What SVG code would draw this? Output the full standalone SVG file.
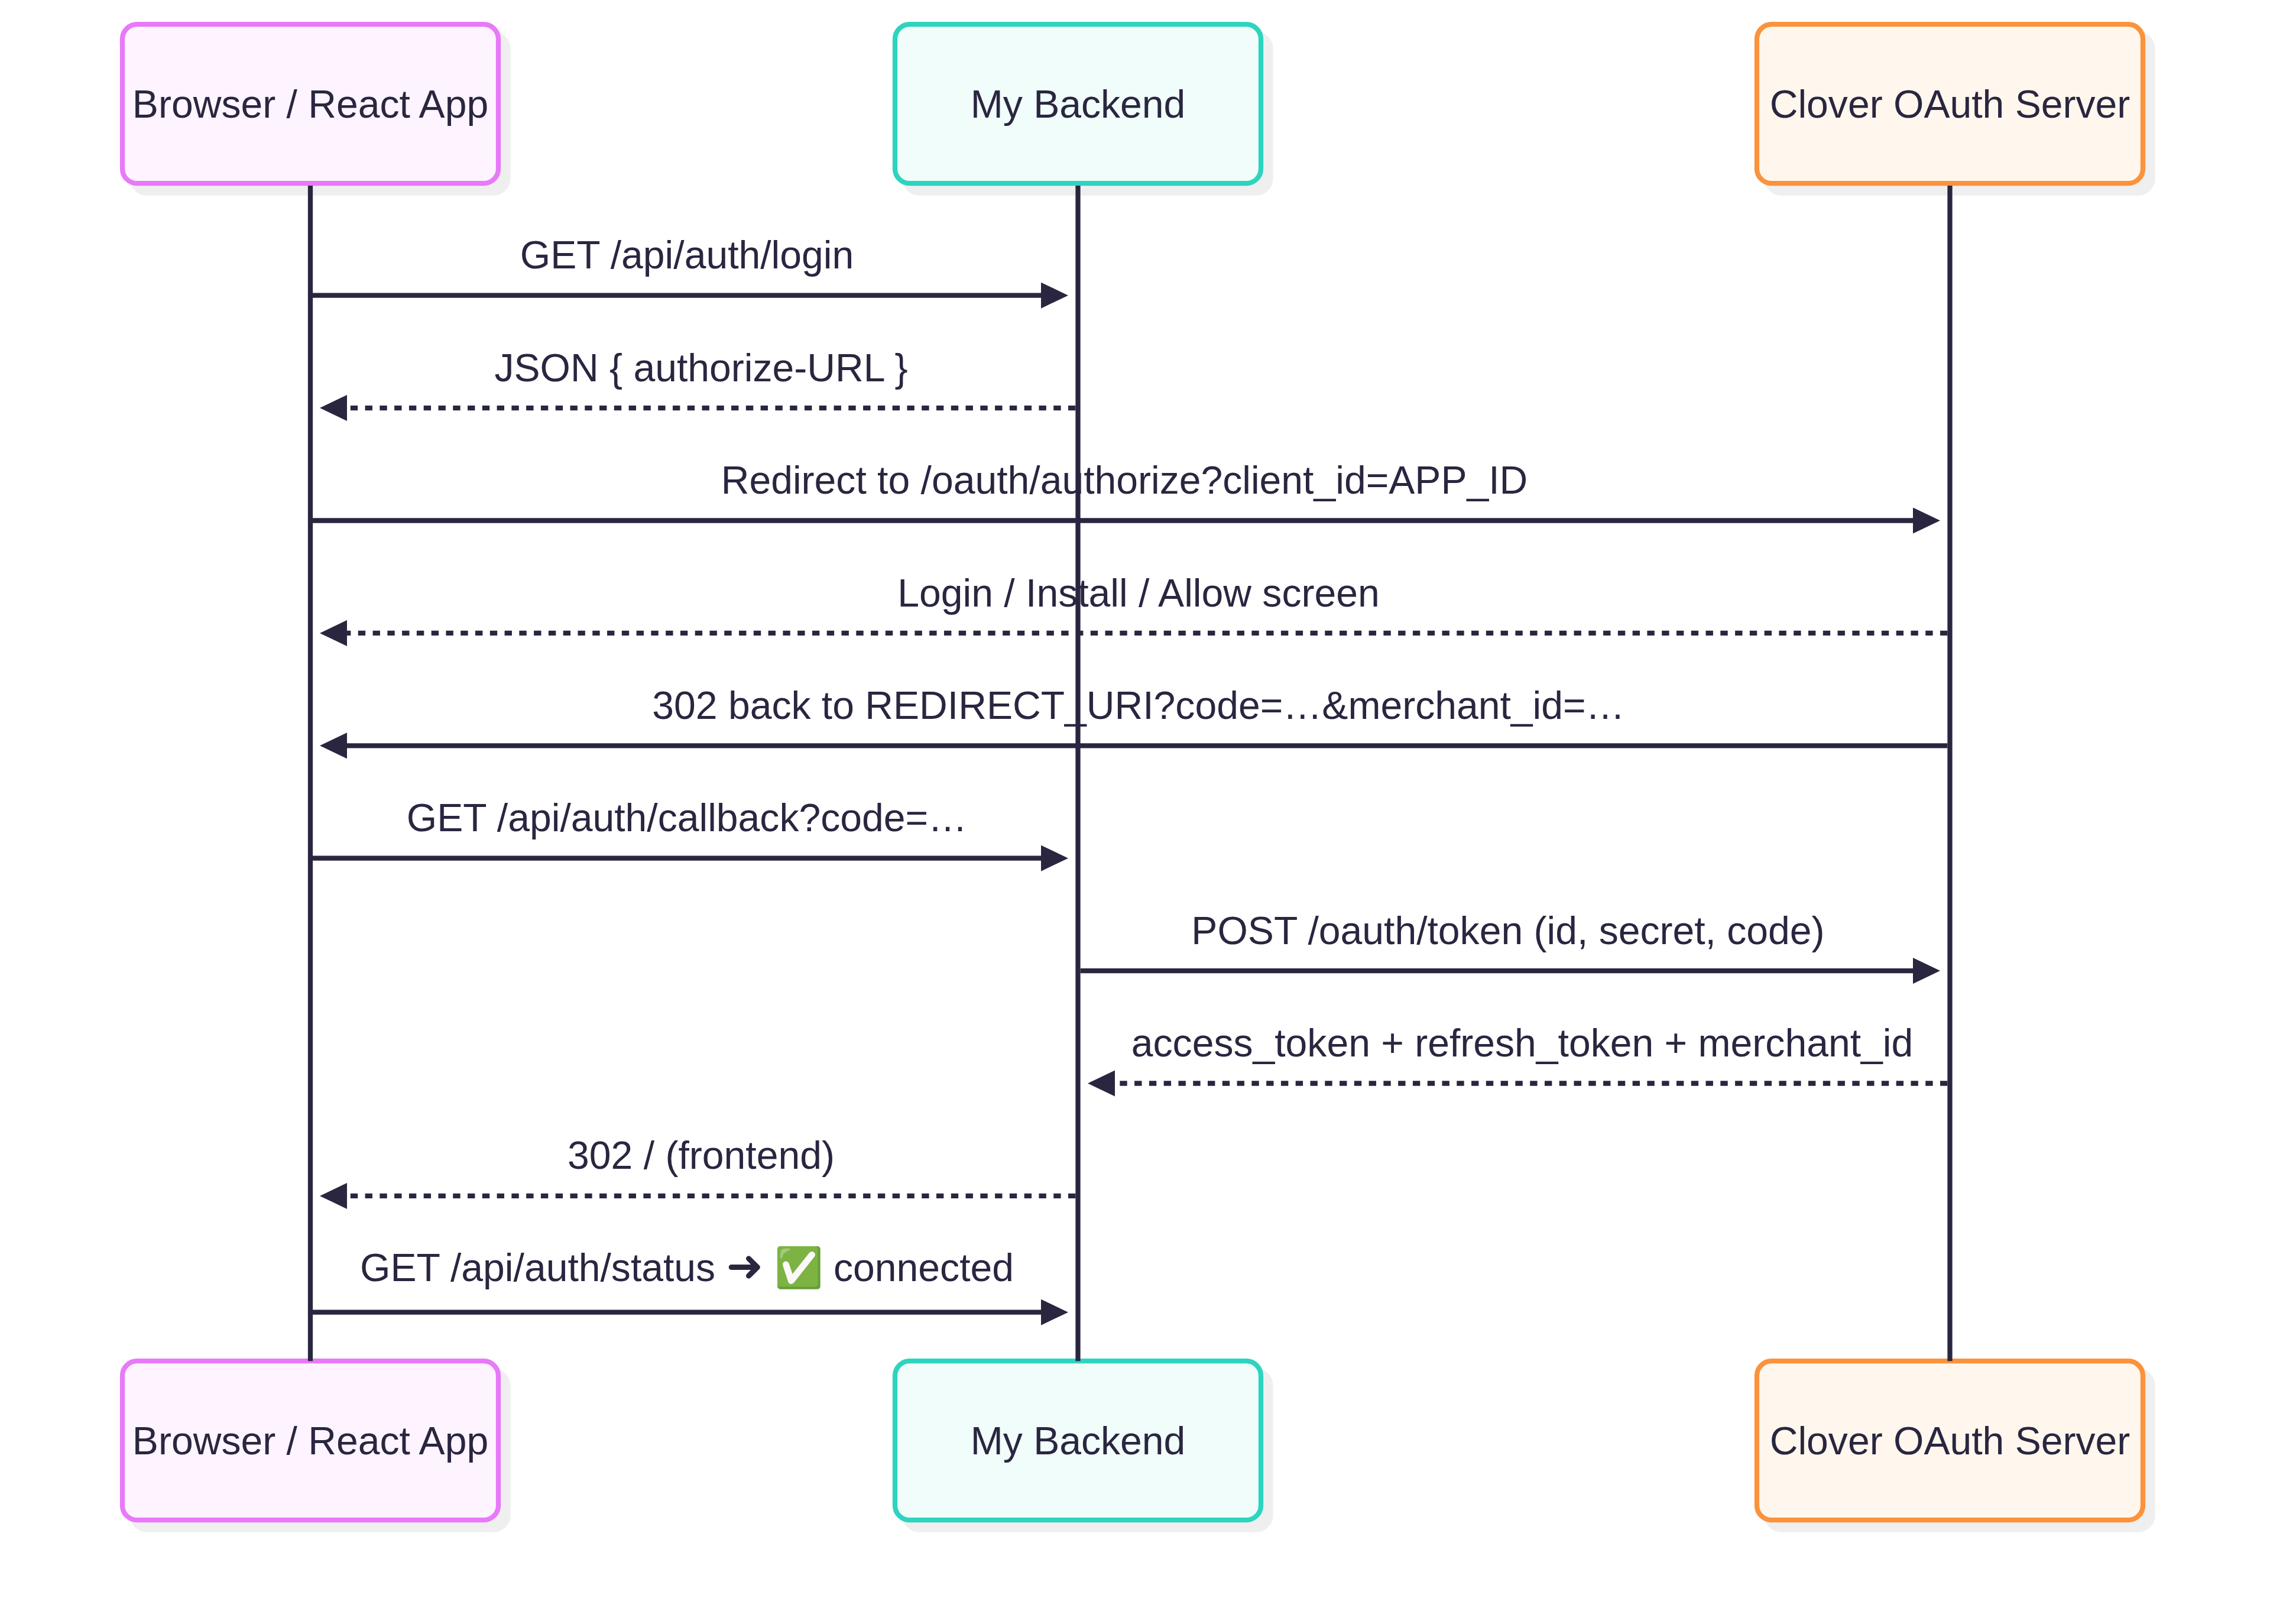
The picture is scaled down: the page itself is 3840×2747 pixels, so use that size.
<svg xmlns="http://www.w3.org/2000/svg" width="3840" height="2747" viewBox="0 0 3840 2747">
<style>
text{font-family:"Liberation Sans",Arial,sans-serif;font-size:66.08px;fill:#2a2640;text-anchor:middle}
.sym{font-family:"DejaVu Sans",sans-serif;font-weight:700;font-size:75px}
.shadow{fill:#efefef;stroke:#efefef;stroke-width:8.26}
.actor{stroke-width:8.26}
.a{fill:#fdf4ff;stroke:#e879f9}
.b{fill:#f0fdfa;stroke:#2dd4bf}
.c{fill:#fff7ed;stroke:#fb923c}
.life{stroke:#2a2640;stroke-width:8.26;fill:none}
.msg{stroke:#2a2640;stroke-width:8.26;fill:none}
.dash{stroke-dasharray:12.39 12.39}
</style>
<defs>
<marker id="arrow" markerUnits="userSpaceOnUse" viewBox="0 0 46 44" refX="26" refY="22" markerWidth="46" markerHeight="44" orient="auto"><path d="M0 0L46 22L0 44Z" fill="#2a2640"/></marker>
</defs>
<rect width="3840" height="2747" fill="#fff"/>
<g id="actor-browser-top"><rect class="shadow" x="223.5" y="57.7" width="636" height="269" rx="24.8"/><rect class="actor a" x="207" y="41.2" width="636" height="269" rx="24.8"/><text x="525" y="199">Browser / React App</text></g>
<g id="actor-backend-top"><rect class="shadow" x="1530.5" y="57.7" width="619" height="269" rx="24.8"/><rect class="actor b" x="1514" y="41.2" width="619" height="269" rx="24.8"/><text x="1823.5" y="199">My Backend</text></g>
<g id="actor-clover-top"><rect class="shadow" x="2988.5" y="57.7" width="653" height="269" rx="24.8"/><rect class="actor c" x="2972" y="41.2" width="653" height="269" rx="24.8"/><text x="3298.5" y="199">Clover OAuth Server</text></g>
<g id="actor-browser-bottom"><rect class="shadow" x="223.5" y="2318.7" width="636" height="269" rx="24.8"/><rect class="actor a" x="207" y="2302.2" width="636" height="269" rx="24.8"/><text x="525" y="2460">Browser / React App</text></g>
<g id="actor-backend-bottom"><rect class="shadow" x="1530.5" y="2318.7" width="619" height="269" rx="24.8"/><rect class="actor b" x="1514" y="2302.2" width="619" height="269" rx="24.8"/><text x="1823.5" y="2460">My Backend</text></g>
<g id="actor-clover-bottom"><rect class="shadow" x="2988.5" y="2318.7" width="653" height="269" rx="24.8"/><rect class="actor c" x="2972" y="2302.2" width="653" height="269" rx="24.8"/><text x="3298.5" y="2460">Clover OAuth Server</text></g>
<g id="connectors">
<path class="life" d="M525 314V2302.3"/>
<path class="life" d="M1823.5 314V2302.3"/>
<path class="life" d="M3298.5 314V2302.3"/>
<path class="msg" d="M529 499.7H1787" marker-end="url(#arrow)"/>
<path class="msg dash" d="M1819.4 690.1H561" marker-end="url(#arrow)"/>
<path class="msg" d="M529 880.5H3262" marker-end="url(#arrow)"/>
<path class="msg dash" d="M3294.4 1070.9H561" marker-end="url(#arrow)"/>
<path class="msg" d="M3294.4 1261.3H561" marker-end="url(#arrow)"/>
<path class="msg" d="M529 1451.7H1787" marker-end="url(#arrow)"/>
<path class="msg" d="M1827.6 1642.1H3262" marker-end="url(#arrow)"/>
<path class="msg dash" d="M3294.4 1832.5H1860" marker-end="url(#arrow)"/>
<path class="msg dash" d="M1819.4 2022.9H561" marker-end="url(#arrow)"/>
<path class="msg" d="M529 2219.7H1787" marker-end="url(#arrow)"/>
</g>
<g id="labels">
<text x="1162" y="454.3">GET /api/auth/login</text>
<text x="1186" y="644.7">JSON { authorize-URL }</text>
<text x="1902" y="835.1">Redirect to /oauth/authorize?client_id=APP_ID</text>
<text x="1926" y="1025.5">Login / Install / Allow screen</text>
<text x="1926" y="1215.8">302 back to REDIRECT_URI?code=…&amp;merchant_id=…</text>
<text x="1162" y="1406.2">GET /api/auth/callback?code=…</text>
<text x="2551" y="1596.6">POST /oauth/token (id, secret, code)</text>
<text x="2575" y="1787">access_token + refresh_token + merchant_id</text>
<text x="1186" y="1977.4">302 / (frontend)</text>
<text x="1162" y="2166.7">GET /api/auth/status <tspan class="sym">➜</tspan> ✅ connected</text>
</g>
</svg>
